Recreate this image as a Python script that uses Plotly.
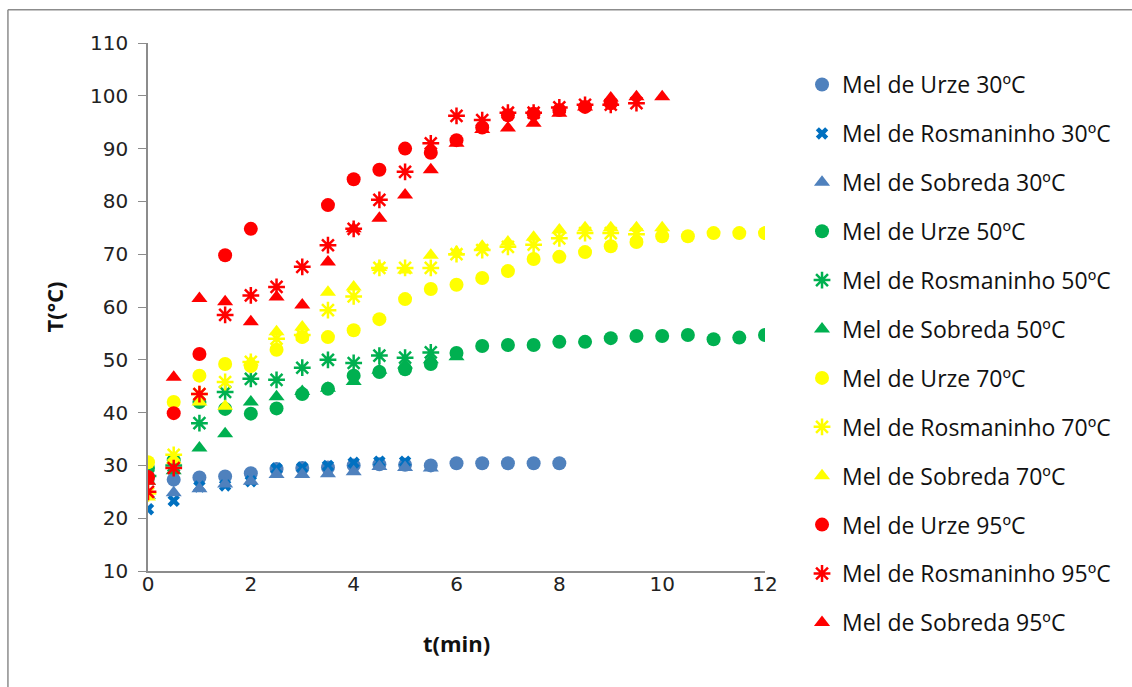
import plotly.graph_objects as go

t_full = [0, 0.5, 1, 1.5, 2, 2.5, 3, 3.5, 4, 4.5, 5, 5.5, 6, 6.5, 7, 7.5, 8, 8.5, 9, 9.5, 10, 10.5, 11, 11.5, 12]

# 30 ºC
urze30_t = t_full[:17]
urze30 = [27.8, 27.3, 27.7, 27.9, 28.5, 29.3, 29.5, 29.6, 30.0, 30.2, 30.1, 30.0, 30.4, 30.4, 30.4, 30.4, 30.4]
ros30_t = t_full[:11]
ros30 = [21.7, 23.3, 26.0, 26.2, 27.0, 29.4, 29.6, 29.9, 30.5, 30.7, 30.7]
sob30_t = t_full[:12]
sob30 = [24.3, 24.8, 25.6, 26.5, 27.0, 28.3, 28.3, 28.4, 28.8, 29.8, 29.6, 29.5]

# 50 ºC
urze50_t = t_full[:25]
urze50 = [29.5, 31.0, 42.0, 40.7, 39.8, 40.8, 43.5, 44.5, 47.0, 47.7, 48.2, 49.2, 51.3,
          52.6, 52.8, 52.8, 53.4, 53.4, 54.1, 54.5, 54.5, 54.7, 53.9, 54.2, 54.7]
ros50_t = t_full[:12]
ros50 = [28.0, 30.0, 38.0, 43.9, 46.4, 46.2, 48.5, 50.0, 49.4, 50.8, 50.4, 51.4]
sob50_t = t_full[:13]
sob50 = [27.0, 29.0, 33.3, 36.0, 42.0, 43.0, 44.0, 44.6, 45.9, 48.0, 49.0, 50.0, 50.6]

# 70 ºC
urze70_t = t_full[:25]
urze70 = [30.6, 42.0, 47.0, 49.2, 48.8, 51.9, 54.3, 54.3, 55.6, 57.7, 61.5, 63.4, 64.2,
          65.5, 66.8, 69.1, 69.5, 70.4, 71.5, 72.3, 73.4, 73.4, 74.0, 74.0, 74.0]
ros70_t = t_full[:20]
ros70 = [24.7, 32.0, 43.5, 45.8, 49.6, 54.0, 54.7, 59.4, 62.0, 67.4, 67.4, 67.4, 70.0,
         70.8, 71.4, 71.8, 73.0, 74.0, 74.0, 73.8]
sob70_t = t_full[:21]
sob70 = [24.0, 31.0, 42.0, 41.2, 49.6, 55.3, 56.2, 62.8, 63.8, 67.5, 67.0, 69.8, 70.4,
         71.5, 72.3, 73.2, 74.6, 75.0, 75.0, 75.0, 75.0]

# 95 ºC
urze95_t = [0, 0.5, 1, 1.5, 2, 3.5, 4, 4.5, 5, 5.5, 6, 6.5, 7, 7.5, 8, 8.5, 9]
urze95 = [27.8, 39.9, 51.1, 69.8, 74.8, 79.3, 84.2, 86.0, 90.0, 89.2, 91.6,
          94.0, 96.3, 96.6, 97.3, 97.9, 98.6]
ros95_t = t_full[:20]
ros95 = [25.0, 29.5, 43.5, 58.5, 62.2, 63.8, 67.6, 71.7, 74.8, 80.3, 85.6, 91.0, 96.2,
         95.4, 96.8, 96.8, 97.8, 98.3, 98.3, 98.6]
sob95_t = t_full[:21]
sob95 = [27.0, 46.7, 61.6, 61.0, 57.2, 61.9, 60.4, 68.5, 74.8, 76.8, 81.2, 86.0, 91.0,
         93.6, 93.9, 94.8, 96.7, 97.9, 99.6, 99.8, 99.8]

names = [
    "Mel de Urze 30ºC", "Mel de Rosmaninho 30ºC", "Mel de Sobreda 30ºC",
    "Mel de Urze 50ºC", "Mel de Rosmaninho 50ºC", "Mel de Sobreda 50ºC",
    "Mel de Urze 70ºC", "Mel de Rosmaninho 70ºC", "Mel de Sobreda 70ºC",
    "Mel de Urze 95ºC", "Mel de Rosmaninho 95ºC", "Mel de Sobreda 95ºC",
]
series = [
    (urze30_t, urze30), (ros30_t, ros30), (sob30_t, sob30),
    (urze50_t, urze50), (ros50_t, ros50), (sob50_t, sob50),
    (urze70_t, urze70), (ros70_t, ros70), (sob70_t, sob70),
    (urze95_t, urze95), (ros95_t, ros95), (sob95_t, sob95),
]
colors = ["#4F81BD", "#0070C0", "#4F81BD",
          "#00B050", "#00B050", "#00B050",
          "#FFFF00", "#FFFF00", "#FFFF00",
          "#FF0000", "#FF0000", "#FF0000"]
symbols = ["circle", "star", "triangle-up"] * 4

fig = go.Figure()
for i, (name, (xs, ys)) in enumerate(zip(names, series)):
    sym = symbols[i]
    if sym == "star":
        if i == 1:
            marker = dict(symbol="x", size=11, color=colors[i], line=dict(width=0))
        else:
            marker = dict(symbol="asterisk-open", size=14, color=colors[i],
                          line=dict(width=2.5, color=colors[i]))
    else:
        marker = dict(symbol=sym, size=14, color=colors[i], line=dict(width=0))
    fig.add_trace(go.Scatter(x=xs, y=ys, mode="markers", name=name, marker=marker,
                             legendgroup=name))

tick_font = dict(family="DejaVu Sans", size=20, color="#222222")
title_font = dict(family="Open Sans", size=22, color="#111111")
fig.update_layout(
    width=1132, height=687,
    margin=dict(l=148, r=367, t=43, b=116),
    paper_bgcolor="white", plot_bgcolor="white",
    showlegend=True,
    legend=dict(x=1.06, y=0.962, xanchor="left", yanchor="top",
                font=dict(family="Open Sans", size=23, color="#111111"),
                tracegroupgap=16, bgcolor="rgba(0,0,0,0)", maxheight=660),
    xaxis=dict(range=[0, 12], dtick=2, tick0=0, showgrid=False, zeroline=False,
               showline=True, linecolor="#8C8C8C", linewidth=1.5,
               ticks="", tickfont=tick_font, ticklabelstandoff=-6,
               title=dict(text="<b>t(min)</b>", font=title_font, standoff=42)),
    yaxis=dict(range=[10, 110], dtick=10, tick0=10, showgrid=False, zeroline=False,
               showline=True, linecolor="#8C8C8C", linewidth=1.5,
               ticks="outside", ticklen=8, tickcolor="#8C8C8C",
               tickfont=tick_font, ticklabelstandoff=6,
               title=dict(text="<b>T(°C)</b>", font=title_font, standoff=20)),
)
# chart frame (left and top edges visible)
fig.add_shape(type="line", xref="paper", yref="paper", x0=-0.227, x1=-0.227, y0=1.063, y1=-0.25,
              line=dict(color="#8C8C8C", width=1.5))
fig.add_shape(type="line", xref="paper", yref="paper", x0=-0.227, x1=1.6, y0=1.063, y1=1.063,
              line=dict(color="#8C8C8C", width=1.5))

fig.write_html("out.html")
